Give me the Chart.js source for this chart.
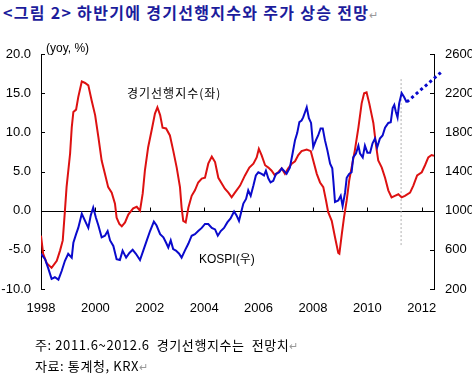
<!DOCTYPE html>
<html>
<head>
<meta charset="utf-8">
<script src="https://cdn.jsdelivr.net/npm/chart.js@4.4.1/dist/chart.umd.min.js"></script>
<style>
  body { margin: 0; width: 472px; height: 379px; position: relative; background: #fff; overflow: hidden; }
  #chart { position: absolute; left: 0; top: 0; }
  .title { position: absolute; left: 3px; top: 2px; font: bold 16px "Noto Sans CJK KR", sans-serif; line-height: 20px; letter-spacing: 1.3px; color: #1c1c9c; white-space: nowrap; }
  .note { position: absolute; left: 35px; font: 13px "Noto Sans CJK KR", sans-serif; line-height: 16px; letter-spacing: 0.6px; color: #000; white-space: nowrap; }
  .mark { color: #999; font-size: 11px; font-weight: normal; letter-spacing: 0; }
</style>
</head>
<body>
<div class="title">&lt;그림 2&gt; 하반기에 경기선행지수와 주가 상승 전망<span class="mark">↵</span></div>
<canvas id="chart" width="472" height="379"></canvas>
<div class="note" style="top:337px">주: 2011.6~2012.6&nbsp; 경기선행지수는&nbsp; 전망치<span class="mark">↵</span></div>
<div class="note" style="top:358px">자료: 통계청, KRX<span class="mark">↵</span></div>
<script>
// 경기선행지수 (yoy, %, left axis)
const leadYears = [1998.00,1998.08,1998.21,1998.39,1998.58,1998.70,1998.80,1998.88,1998.94,1999.07,
  1999.13,1999.19,1999.29,1999.37,1999.50,1999.62,1999.74,1999.86,1999.99,2000.11,
  2000.23,2000.35,2000.47,2000.60,2000.72,2000.78,2000.88,2000.97,2001.09,2001.21,
  2001.39,2001.52,2001.64,2001.74,2001.82,2001.94,2002.07,2002.19,2002.28,2002.38,
  2002.47,2002.60,2002.74,2002.86,2002.99,2003.11,2003.17,2003.23,2003.32,2003.42,
  2003.54,2003.66,2003.78,2003.91,2004.03,2004.15,2004.28,2004.40,2004.52,2004.64,
  2004.76,2004.89,2005.01,2005.13,2005.32,2005.50,2005.66,2005.81,2005.93,2006.01,
  2006.11,2006.24,2006.36,2006.48,2006.60,2006.72,2006.85,2006.97,2007.09,2007.22,
  2007.34,2007.46,2007.58,2007.77,2007.92,2008.01,2008.14,2008.26,2008.38,2008.48,
  2008.56,2008.69,2008.81,2008.93,2008.97,2009.06,2009.14,2009.24,2009.33,2009.42,
  2009.54,2009.67,2009.79,2009.88,2009.97,2010.07,2010.16,2010.22,2010.32,2010.40,
  2010.53,2010.65,2010.77,2010.89,2011.01,2011.14,2011.26,2011.38,2011.57,2011.69,
  2011.83,2012.00,2012.12,2012.24,2012.36,2012.45]
const leadValues = [-3.2,-5.5,-6.7,-7.3,-6.4,-5.1,-3.8,0.0,3.0,7.3,
  10.6,12.6,12.9,14.5,16.5,16.3,16.0,14.1,12.2,9.4,
  6.4,4.7,3.0,2.3,0.9,-0.9,-1.7,-2.0,-1.5,-0.5,
  0.3,0.5,0.0,2.2,5.1,8.1,10.3,12.4,13.2,12.2,
  10.6,10.5,9.6,7.7,5.5,3.0,0.4,-1.3,-1.5,0.4,
  1.9,2.6,3.6,4.1,4.2,6.0,6.9,6.2,4.2,3.5,
  2.8,2.3,1.7,2.3,3.2,4.5,5.5,6.0,6.8,7.9,
  7.1,5.8,5.5,5.1,4.5,4.9,5.4,4.7,5.4,6.0,
  6.3,7.1,7.6,7.8,7.6,6.4,4.7,3.6,3.0,1.3,
  -0.2,-1.3,-3.4,-5.4,-5.5,-3.0,-0.9,1.3,3.8,5.5,
  7.7,10.6,13.7,15.0,15.1,13.7,12.2,11.2,8.3,6.4,
  5.5,4.2,2.6,1.7,1.9,2.1,1.7,1.9,2.3,3.2,
  4.5,4.9,5.8,6.8,7.1,7.0]

// KOSPI (right axis)
const kospiYears = [1998.00,1998.15,1998.27,1998.39,1998.51,1998.64,1998.76,1998.88,1999.00,1999.13,
  1999.19,1999.29,1999.37,1999.50,1999.62,1999.74,1999.83,1999.92,2000.02,2000.11,
  2000.23,2000.35,2000.45,2000.54,2000.66,2000.78,2000.90,2001.00,2001.13,2001.25,
  2001.37,2001.49,2001.64,2001.76,2001.89,2002.01,2002.15,2002.25,2002.38,2002.50,
  2002.60,2002.68,2002.77,2002.86,2002.96,2003.08,2003.17,2003.29,2003.42,2003.54,
  2003.66,2003.78,2003.91,2004.03,2004.15,2004.28,2004.40,2004.50,2004.61,2004.73,
  2004.85,2004.97,2005.10,2005.19,2005.28,2005.44,2005.54,2005.62,2005.71,2005.81,
  2005.90,2005.99,2006.11,2006.20,2006.27,2006.36,2006.44,2006.54,2006.64,2006.76,
  2006.85,2006.93,2007.03,2007.15,2007.25,2007.34,2007.42,2007.50,2007.58,2007.64,
  2007.71,2007.77,2007.85,2007.93,2008.01,2008.11,2008.19,2008.28,2008.36,2008.44,
  2008.53,2008.63,2008.71,2008.75,2008.81,2008.93,2009.02,2009.09,2009.18,2009.24,
  2009.33,2009.42,2009.48,2009.58,2009.67,2009.73,2009.83,2009.91,2010.00,2010.10,
  2010.19,2010.28,2010.36,2010.46,2010.56,2010.65,2010.77,2010.86,2010.93,2010.99,
  2011.05,2011.11,2011.17,2011.26,2011.35,2011.45]
const kospiValues = [560,504,408,304,320,296,384,488,560,520,
  672,760,824,968,896,824,952,1032,928,848,
  728,744,792,696,640,504,496,592,520,568,
  600,560,496,592,696,792,888,848,760,728,
  672,624,696,608,592,560,520,592,664,744,
  760,792,824,864,864,824,808,744,792,824,
  880,920,992,952,896,1072,1120,1208,1152,1256,
  1360,1392,1376,1360,1408,1328,1288,1304,1376,1392,
  1432,1408,1376,1440,1584,1720,1792,1904,1920,1952,
  2008,2056,1944,1896,1648,1720,1768,1840,1840,1720,
  1616,1480,1432,1304,1088,1104,1152,1048,1184,1336,
  1376,1392,1544,1584,1664,1584,1544,1664,1592,1592,
  1688,1736,1648,1736,1768,1848,1896,1904,2048,2080,
  2008,1952,2096,2200,2160,2104]

// KOSPI outlook arrow and forecast start marker
const outlookYears = [2011.45, 2012.78]
const outlookValues = [2110, 2430]
const forecastYears = [2011.24, 2011.24]
const forecastValues = [16.8, -4.5]

const leftTicks = [-10, -5, 0, 5, 10, 15, 20]
const rightTicks = [200, 600, 1000, 1400, 1800, 2200, 2600]
const yearTicks = [1998, 2000, 2002, 2004, 2006, 2008, 2010, 2012]

const pairs = (xs, ys) => xs.map((x, i) => ({ x, y: ys[i] }))
const tickFont = { family: '"Liberation Sans Narrow", "Liberation Sans", sans-serif', size: 13 }

// axis lines, inward tick marks, zero line and chart labels
const decor = {
  id: "decor",
  beforeDatasetsDraw(chart) {
    const { ctx, chartArea: a, scales } = chart
    const { x, y, y1 } = scales
    ctx.save()
    ctx.strokeStyle = "#000"
    ctx.lineWidth = 1
    ctx.beginPath()
    const y0 = Math.round(y.getPixelForValue(0)) + 0.5
    ctx.moveTo(a.left, y0)
    ctx.lineTo(a.right, y0)
    yearTicks.forEach(v => {
      const px = Math.round(x.getPixelForValue(v)) + 0.5
      ctx.moveTo(px, y0)
      ctx.lineTo(px, y0 - 4)
    })
    leftTicks.forEach(v => {
      const py = Math.round(y.getPixelForValue(v)) + 0.5
      ctx.moveTo(a.left, py)
      ctx.lineTo(a.left + 4, py)
    })
    rightTicks.forEach(v => {
      const py = Math.round(y1.getPixelForValue(v)) + 0.5
      ctx.moveTo(a.right, py)
      ctx.lineTo(a.right - 4, py)
    })
    ctx.stroke()
    ctx.restore()
  },
  afterDraw(chart) {
    const { ctx } = chart
    ctx.save()
    ctx.fillStyle = "#000"
    ctx.textBaseline = "middle"
    ctx.font = '12px "Liberation Sans", sans-serif'
    ctx.fillText("(yoy, %)", 46, 49)
    ctx.font = '12px "Noto Sans CJK KR", sans-serif'
    ctx.letterSpacing = "1px"
    ctx.fillText("경기선행지수(좌)", 127, 93)
    ctx.letterSpacing = "0px"
    ctx.font = '12px "Liberation Sans", "Noto Sans CJK KR", sans-serif'
    ctx.fillText("KOSPI(우)", 199, 260)
    ctx.restore()
  }
}

new Chart(document.getElementById("chart"), {
  type: "line",
  data: {
    datasets: [
      {
        data: pairs(kospiYears, kospiValues),
        yAxisID: "y1",
        borderColor: "#0a0acc",
        borderWidth: 2,
        pointRadius: 0,
      },
      {
        data: pairs(outlookYears, outlookValues),
        yAxisID: "y1",
        borderColor: "#0a0acc",
        backgroundColor: "#0a0acc",
        borderWidth: 3,
        borderDash: [3, 3],
        pointStyle: "triangle",
        rotation: 50,
        pointRadius: [0, 5],
        clip: false,
      },
      {
        data: pairs(leadYears, leadValues),
        yAxisID: "y",
        borderColor: "#dd1111",
        borderWidth: 2,
        pointRadius: 0,
      },
      {
        data: pairs(forecastYears, forecastValues),
        yAxisID: "y",
        borderColor: "#b0b0b0",
        borderWidth: 1,
        borderDash: [2, 2],
        pointRadius: 0,
      },
    ],
  },
  options: {
    responsive: false,
    animation: false,
    devicePixelRatio: 1,
    layout: { padding: { top: 54, left: 0, right: 0, bottom: 0 } },
    plugins: { legend: { display: false }, tooltip: { enabled: false } },
    scales: {
      x: {
        type: "linear",
        min: 1998,
        max: 2012.45,
        afterBuildTicks: s => { s.ticks = yearTicks.map(v => ({ value: v })) },
        afterFit: s => { s.height = 90 },
        grid: { display: false, drawTicks: false },
        border: { display: false },
        ticks: { color: "#000", font: tickFont, padding: 12, maxRotation: 0, callback: v => String(v) },
      },
      y: {
        position: "left",
        min: -10,
        max: 20,
        afterBuildTicks: s => { s.ticks = leftTicks.map(v => ({ value: v })) },
        afterFit: s => { s.width = 41 },
        grid: { display: false, drawTicks: false },
        border: { display: true, color: "#000", width: 1 },
        ticks: { color: "#000", font: tickFont, padding: 10, callback: v => v.toFixed(1) },
      },
      y1: {
        position: "right",
        min: 200,
        max: 2600,
        afterBuildTicks: s => { s.ticks = rightTicks.map(v => ({ value: v })) },
        afterFit: s => { s.width = 38 },
        grid: { display: false, drawTicks: false },
        border: { display: true, color: "#000", width: 1 },
        ticks: { color: "#000", font: tickFont, padding: 11, callback: v => String(v) },
      },
    },
  },
  plugins: [decor],
})
</script>
</body>
</html>
